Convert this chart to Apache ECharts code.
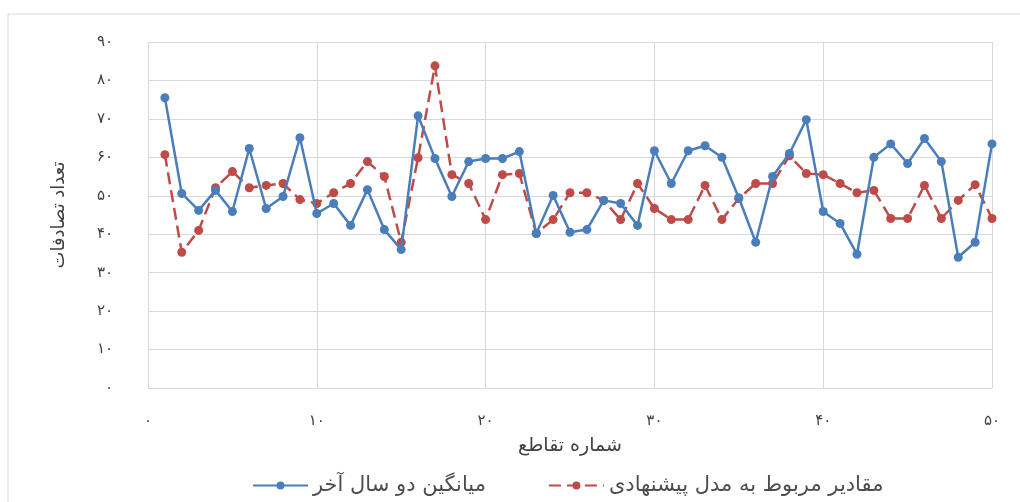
<!DOCTYPE html>
<html>
<head>
<meta charset="utf-8">
<script src="https://cdn.jsdelivr.net/npm/echarts@6/dist/echarts.min.js"></script>
<style>
html, body { margin: 0; padding: 0; background: #fff; }
#chart { width: 1020px; height: 502px; }
</style>
</head>
<body>
<div id="chart"></div>
<script>
// شماره تقاطع 1..50
var intersections = []
for (var i = 1; i <= 50; i++) intersections.push(i)

// میانگین دو سال آخر
var avgLastTwoYears = [75.5, 50.6, 46.2, 51.4, 45.9, 62.3, 46.7, 49.8, 65.1, 45.4,
    48.0, 42.3, 51.6, 41.2, 36.0, 70.8, 59.7, 49.8, 58.9, 59.7,
    59.7, 61.5, 40.2, 50.1, 40.5, 41.2, 48.8, 48.0, 42.3, 61.7,
    53.2, 61.7, 63.0, 60.0, 49.5, 37.9, 55.0, 61.0, 69.8, 45.9,
    42.8, 34.8, 60.0, 63.5, 58.4, 64.9, 58.9, 34.0, 37.9, 63.5]

// مقادیر مربوط به مدل پیشنهادی
var proposedModel = [60.7, 35.3, 41.0, 52.1, 56.3, 52.1, 52.7, 53.2, 49.0, 48.0,
    50.8, 53.2, 58.9, 55.0, 37.9, 59.9, 83.8, 55.5, 53.2, 43.8,
    55.5, 55.8, 40.2, 43.8, 50.8, 50.8, 48.8, 43.8, 53.2, 46.7,
    43.8, 43.8, 52.7, 43.8, 49.3, 53.2, 53.2, 60.4, 55.8, 55.5,
    53.2, 50.8, 51.4, 44.1, 44.1, 52.7, 44.1, 48.8, 52.9, 44.1]

var xTickLabels = ['۰', '۱۰', '۲۰', '۳۰', '۴۰', '۵۰']
var yTickLabels = ['۰', '۱۰', '۲۰', '۳۰', '۴۰', '۵۰', '۶۰', '۷۰', '۸۰', '۹۰']

var seriesNames = ['میانگین دو سال آخر', 'مقادیر مربوط به مدل پیشنهادی']

function pairs(vals) {
    return vals.map(function (v, i) { return [intersections[i], v] })
}

var font = 'DejaVu Sans'
var chart = echarts.init(document.getElementById('chart'))
var option = {
    animation: false,
    graphic: [{
        type: 'rect',
        shape: { x: 8, y: 14, width: 1030, height: 520 },
        style: { fill: 'none', stroke: '#d9d9d9', lineWidth: 1 },
        silent: true
    }],
    grid: { left: 148, right: 28, top: 42, bottom: 114 },
    legend: {
        bottom: 1,
        left: 247,
        itemWidth: 55,
        itemHeight: 10,
        itemGap: 62,
        textStyle: { fontFamily: font, fontSize: 21, color: '#4d4d4d' },
        data: seriesNames
    },
    xAxis: {
        type: 'value',
        min: 0,
        max: 50,
        interval: 10,
        name: 'شماره تقاطع',
        nameLocation: 'middle',
        nameGap: 49,
        nameTextStyle: { fontFamily: font, fontSize: 19, color: '#404040' },
        axisLine: { show: false },
        axisTick: { show: false },
        axisLabel: {
            margin: 26,
            fontFamily: font,
            fontSize: 15,
            color: '#404040',
            formatter: function (v) { return xTickLabels[Math.round(v / 10)] }
        },
        splitLine: { show: true, lineStyle: { color: '#d9d9d9', width: 1 } }
    },
    yAxis: {
        type: 'value',
        min: 0,
        max: 90,
        interval: 10,
        name: 'تعداد تصادفات',
        nameLocation: 'middle',
        nameGap: 80,
        nameTextStyle: { fontFamily: font, fontSize: 18, color: '#404040' },
        axisLine: { show: false },
        axisTick: { show: false },
        axisLabel: {
            margin: 35,
            fontFamily: font,
            fontSize: 15,
            color: '#404040',
            formatter: function (v) { return yTickLabels[Math.round(v / 10)] }
        },
        splitLine: { show: true, lineStyle: { color: '#d9d9d9', width: 1 } }
    },
    series: [
        {
            name: seriesNames[0],
            type: 'line',
            data: pairs(avgLastTwoYears),
            symbol: 'circle',
            symbolSize: 9,
            z: 3,
            itemStyle: { color: '#4a7ebb' },
            lineStyle: { color: '#4a7ebb', width: 2.5 }
        },
        {
            name: seriesNames[1],
            type: 'line',
            data: pairs(proposedModel),
            symbol: 'circle',
            symbolSize: 9,
            z: 2,
            itemStyle: { color: '#be4b48' },
            lineStyle: { color: '#be4b48', width: 2.5, type: [12, 6] }
        }
    ]
}
chart.setOption(option)
</script>
</body>
</html>
